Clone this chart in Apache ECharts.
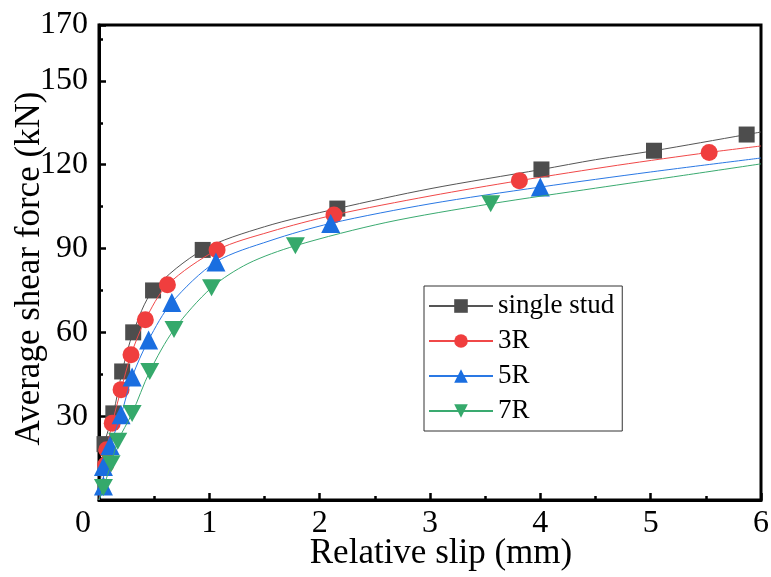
<!DOCTYPE html>
<html>
<head>
<meta charset="utf-8">
<script src="https://cdn.jsdelivr.net/npm/echarts@6/dist/echarts.min.js"></script>
<style>html,body{margin:0;padding:0;background:#fff}#c{width:771px;height:577px}</style>
</head>
<body>
<div id="c"></div>
<script>
// Series names
const seriesNames = ['single stud', '3R', '5R', '7R'];
// Marker data (relative slip mm, shear force kN)
const singleX = [0.05, 0.13, 0.21, 0.31, 0.49, 0.94, 2.16, 4.01, 5.03, 5.87];
const singleY = [20, 31, 46, 60, 75, 89.5, 104.3, 118.3, 125.0, 130.8];
const r3X = [0.06, 0.07, 0.12, 0.20, 0.29, 0.42, 0.62, 1.07, 2.13, 3.81, 5.53];
const r3Y = [12.5, 18, 27.5, 39.5, 52, 64.5, 77, 89.5, 102, 114.3, 124.4];
const r5X = [0.04, 0.04, 0.10, 0.20, 0.30, 0.45, 0.66, 1.06, 2.10, 4.00];
const r5Y = [5, 12, 19.5, 30.5, 44, 57.3, 70.7, 85.2, 99, 112];
const r7X = [0.04, 0.11, 0.17, 0.30, 0.46, 0.68, 1.02, 1.78, 3.55];
const r7Y = [4.5, 13, 21, 31, 46, 61, 76, 91, 106];
// Extra points (no marker drawn there)
const singleCurveX = [0, 1.5, 3.0, 4.5, 6];
const singleCurveY = [0, 97.8, 111.4, 121.8, 131.7];
const r3CurveX = [0, 1.55, 3.0, 4.7, 6];
const r3CurveY = [0, 96.0, 108.8, 119.8, 126.7];
const r5CurveX = [0, 1.55, 3.0, 5.0, 6];
const r5CurveY = [0, 92.8, 106.0, 117.4, 122.4];
const r7CurveX = [0, 1.35, 2.6, 4.5, 5.3, 6];
const r7CurveY = [0, 84.6, 99.3, 111.6, 116.2, 120.3];
// Axis ticks
const xTicks = [0, 1, 2, 3, 4, 5, 6];
const yTicks = [30, 60, 90, 120, 150, 170];

const markerColors = ['#4d4d4d', '#f03e3e', '#1a6ee0', '#35a96b'];
const lineColors = ['#555555', '#f04848', '#2a78e4', '#3aaa70'];
const symbols = ['rect', 'circle', 'triangle', 'path://M0,0 L10,0 L5,9 Z'];
const symbolSizes = [16, 17, 19, [19, 17]];
const xs = [singleX, r3X, r5X, r7X];
const ys = [singleY, r3Y, r5Y, r7Y];
const cxs = [singleCurveX, r3CurveX, r5CurveX, r7CurveX];
const cys = [singleCurveY, r3CurveY, r5CurveY, r7CurveY];

const FONT = '"Liberation Serif", "Times New Roman", serif';

const series = seriesNames.map((name, i) => {
  const pts = [];
  xs[i].forEach((x, k) => pts.push({ value: [x, ys[i][k]] }));
  cxs[i].forEach((x, k) => pts.push({ value: [x, cys[i][k]], symbol: 'none' }));
  pts.sort((a, b) => a.value[0] - b.value[0] || a.value[1] - b.value[1]);
  return {
    name: name,
    type: 'line',
    xAxisIndex: 0,
    yAxisIndex: 0,
    smooth: 0.3,
    symbol: symbols[i],
    symbolSize: symbolSizes[i],
    showAllSymbol: true,
    lineStyle: { color: lineColors[i], width: 1 },
    itemStyle: { color: markerColors[i] },
    data: pts,
    z: 3 + i
  };
});

const chart = echarts.init(document.getElementById('c'), null, { renderer: 'canvas' });
chart.setOption({
  animation: false,
  backgroundColor: '#fff',
  grid: { left: 99, right: 10, top: 25, bottom: 77, show: true, borderColor: '#000', borderWidth: 3, containLabel: false, outerBoundsMode: 'none' },
  legend: {
    orient: 'vertical',
    left: 424,
    top: 286,
    width: 198,
    padding: [6, 8, 6, 4],
    itemWidth: 64,
    itemHeight: 17,
    itemGap: 7,
    borderColor: '#333',
    borderWidth: 1,
    textStyle: { fontFamily: FONT, fontSize: 27, color: '#000', lineHeight: 28 },
    data: seriesNames
  },
  xAxis: [{
    type: 'value',
    min: xTicks[0],
    max: xTicks[xTicks.length - 1],
    interval: 1,
    name: 'Relative slip (mm)',
    nameLocation: 'middle',
    nameGap: 36,
    nameMoveOverlap: false,
    nameTextStyle: { fontFamily: FONT, fontSize: 35, color: '#000', padding: [0, 0, 0, 22] },
    axisLine: { lineStyle: { color: '#000', width: 3 } },
    axisTick: { inside: true, length: 7, lineStyle: { color: '#000', width: 2.5 } },
    minorTick: { show: true, splitNumber: 2, length: 4, lineStyle: { color: '#000', width: 2.5 } },
    splitLine: { show: false },
    axisLabel: {
      fontFamily: FONT, fontSize: 32, color: '#000', margin: 8,
      formatter: v => v === 0 ? '{z|0}' : String(v),
      rich: { z: { fontFamily: FONT, fontSize: 32, color: '#000', padding: [0, 32, 0, 0] } }
    }
  }],
  yAxis: [{
    type: 'value',
    min: 0,
    max: 170,
    interval: 30,
    name: 'Average shear force (kN)',
    nameLocation: 'middle',
    nameGap: 52,
    nameMoveOverlap: false,
    nameTextStyle: { fontFamily: FONT, fontSize: 35, color: '#000', padding: [0, 12, 0, 0] },
    axisLine: { lineStyle: { color: '#000', width: 3 } },
    axisTick: { inside: true, length: 7, lineStyle: { color: '#000', width: 2.5 } },
    splitLine: { show: false },
    axisLabel: {
      fontFamily: FONT, fontSize: 32, color: '#000', margin: 11,
      formatter: v => yTicks.indexOf(v) >= 0 ? String(v) : ''
    }
  }, {
    type: 'value',
    position: 'left',
    offset: 0,
    min: 0,
    max: 170,
    interval: 15,
    axisLine: { show: false },
    axisTick: { inside: true, length: 4, lineStyle: { color: '#000', width: 2.5 } },
    axisLabel: { show: false },
    splitLine: { show: false }
  }],
  series: series
});
</script>
</body>
</html>
